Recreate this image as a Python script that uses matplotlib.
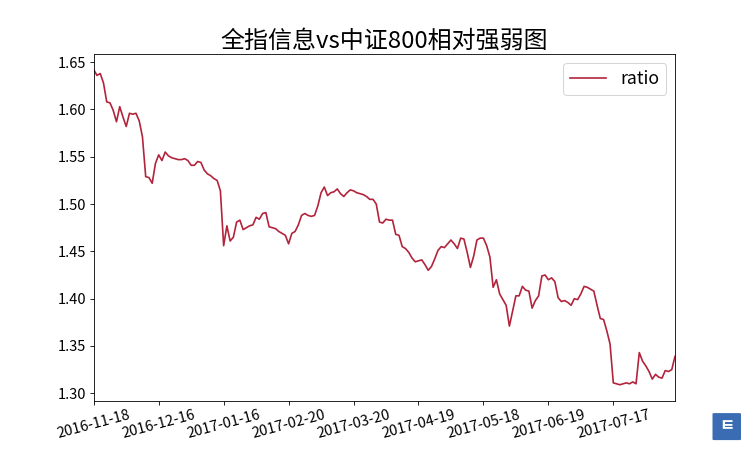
import numpy as np
import matplotlib
matplotlib.use('Agg')
import matplotlib.pyplot as plt
from matplotlib.patches import FancyBboxPatch

plt.rcParams['font.family'] = ['Noto Sans CJK SC', 'DejaVu Sans']
plt.rcParams['axes.unicode_minus'] = False

# ratio of the two indices, one value per trading day
ratio = [
    1.642, 1.636, 1.638, 1.628, 1.608, 1.607, 1.599, 1.587, 1.603, 1.592,
    1.582, 1.596, 1.595, 1.596, 1.588, 1.571, 1.529, 1.528, 1.522, 1.543,
    1.552, 1.546, 1.555, 1.551, 1.549, 1.548, 1.547, 1.547, 1.548, 1.546,
    1.541, 1.541, 1.545, 1.544, 1.536, 1.532, 1.530, 1.527, 1.525, 1.514,
    1.456, 1.477, 1.461, 1.465, 1.481, 1.483, 1.473, 1.475, 1.477, 1.478,
    1.486, 1.484, 1.490, 1.491, 1.476, 1.475, 1.474, 1.471, 1.469, 1.467,
    1.458, 1.469, 1.471, 1.478, 1.488, 1.490, 1.488, 1.487, 1.488, 1.498,
    1.512, 1.518, 1.509, 1.512, 1.513, 1.516, 1.511, 1.508, 1.512, 1.515,
    1.514, 1.512, 1.511, 1.510, 1.508, 1.505, 1.505, 1.500, 1.481, 1.480,
    1.484, 1.483, 1.483, 1.468, 1.467, 1.455, 1.453, 1.449, 1.443, 1.439,
    1.440, 1.441, 1.436, 1.430, 1.434, 1.442, 1.451, 1.455, 1.454, 1.458,
    1.462, 1.458, 1.453, 1.464, 1.463, 1.449, 1.433, 1.445, 1.462, 1.464,
    1.464, 1.456, 1.444, 1.412, 1.420, 1.405, 1.399, 1.393, 1.371, 1.387,
    1.403, 1.403, 1.413, 1.409, 1.408, 1.390, 1.398, 1.403, 1.424, 1.425,
    1.420, 1.422, 1.418, 1.401, 1.397, 1.398, 1.396, 1.393, 1.400, 1.399,
    1.405, 1.413, 1.412, 1.410, 1.408, 1.393, 1.379, 1.378, 1.366, 1.352,
    1.311, 1.310, 1.309, 1.310, 1.311, 1.310, 1.312, 1.310, 1.343, 1.334,
    1.329, 1.323, 1.315, 1.320, 1.317, 1.316, 1.324, 1.323, 1.325, 1.339,
]

# one label every 20 trading days
tick_labels = ['2016-11-18', '2016-12-16', '2017-01-16', '2017-02-20',
               '2017-03-20', '2017-04-19', '2017-05-18', '2017-06-19',
               '2017-07-17']

x = np.arange(len(ratio))

fig = plt.figure(figsize=(10, 6), dpi=75)
ax = fig.add_subplot(1, 1, 1)
ax.plot(x, ratio, color='#b2243c', linewidth=1.6, label='ratio')
ax.set_xlim(0, len(ratio) - 1)
ax.set_xticks(x[::20])
ax.set_xticklabels(tick_labels, rotation=15, fontsize=14)
ax.tick_params(axis='y', labelsize=14)
ax.legend(loc='upper right', fontsize=17)
ax.set_title('全指信息vs中证800相对强弱图', fontsize=23)

# small logo in the corner
fig.patches.append(FancyBboxPatch((0.952, 0.024), 0.034, 0.056,
                                  boxstyle='round,pad=0.002',
                                  transform=fig.transFigure,
                                  facecolor='#3a6cb4', edgecolor='none'))
fig.text(0.969, 0.052, 'ㅌ', color='white', fontsize=16, ha='center', va='center',
         fontweight='bold')

plt.savefig('out.png', dpi=75)
